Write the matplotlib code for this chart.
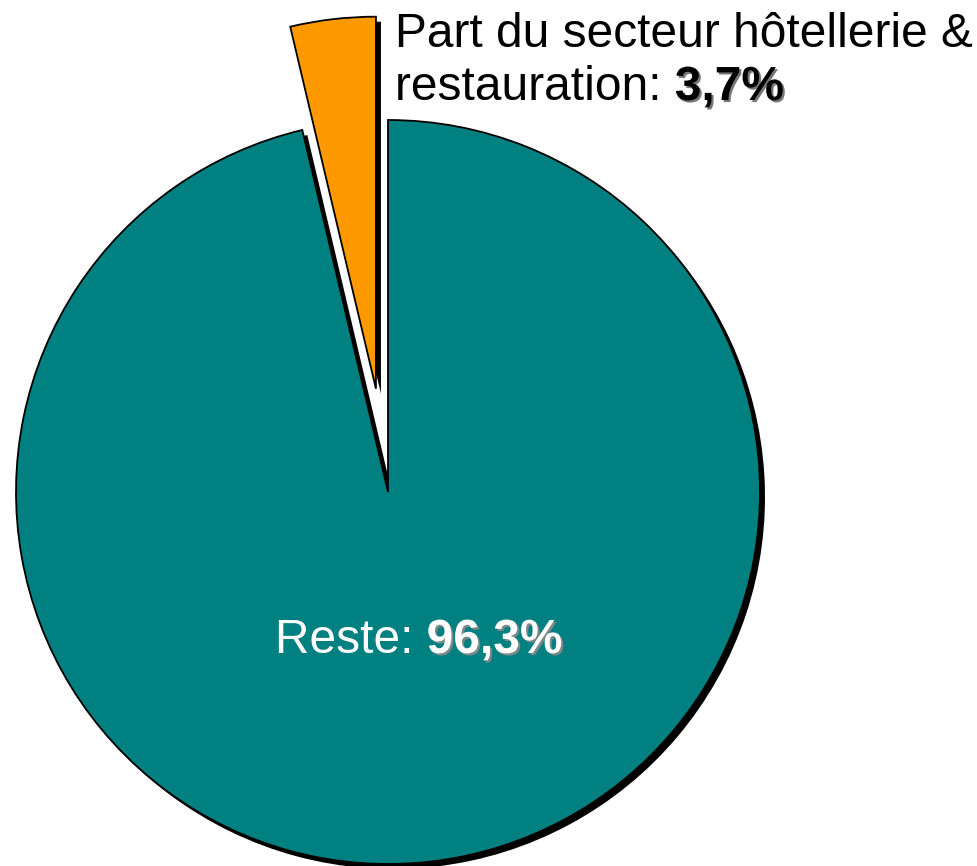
import matplotlib
matplotlib.use("Agg")
import matplotlib.pyplot as plt
import matplotlib.patheffects as pe

plt.rcParams['font.family'] = ['Liberation Sans', 'DejaVu Sans']

line1 = "Part du secteur hôtellerie &"
labels = ["restauration: ", "Reste: "]
values = [3.7, 96.3]
value_txt = ["3,7%", "96,3%"]
colors = ["#FF9900", "#008080"]

fig = plt.figure(figsize=(9.77, 8.66), dpi=100)
ax = fig.add_axes([0, 0, 1, 1])
ax.set_xlim(0, 977)
ax.set_ylim(0, 866)
ax.set_aspect('equal')
ax.axis('off')

cx, cy, r = 388, 374, 372
expl = [104, 0]

# shadow pie
ax.pie(values, radius=r, center=(cx + 5, cy - 5), startangle=90,
       explode=expl, colors=['black', 'black'],
       wedgeprops=dict(linewidth=0))
# main pie
ax.pie(values, radius=r, center=(cx, cy), startangle=90,
       explode=expl, colors=colors,
       wedgeprops=dict(edgecolor='black', linewidth=1.3))
ax.set_xlim(0, 977)
ax.set_ylim(0, 866)

shadow = [pe.withSimplePatchShadow(offset=(1.5, -1.5), shadow_rgbFace='#555555', alpha=0.8)]
shadow_w = [pe.withSimplePatchShadow(offset=(1.5, -1.5), shadow_rgbFace='#8a8a8a', alpha=0.9)]

fs = 34.5
ax.text(395, 866 - 47, line1, fontsize=fs, color='black',
        ha='left', va='baseline')
t1 = ax.text(395, 866 - 100, labels[0], fontsize=fs, color='black',
             ha='left', va='baseline')
ax.annotate(value_txt[0], xy=(1, 0), xycoords=t1, va='bottom', ha='left',
            fontsize=fs, fontweight='bold', color='black', path_effects=shadow)

t2 = ax.text(275, 866 - 653, labels[1], fontsize=fs, color='white',
             ha='left', va='baseline')
ax.annotate(value_txt[1], xy=(1, 0), xycoords=t2, va='bottom', ha='left',
            fontsize=fs, fontweight='bold', color='white', path_effects=shadow_w)

fig.savefig("out.png", dpi=100)
